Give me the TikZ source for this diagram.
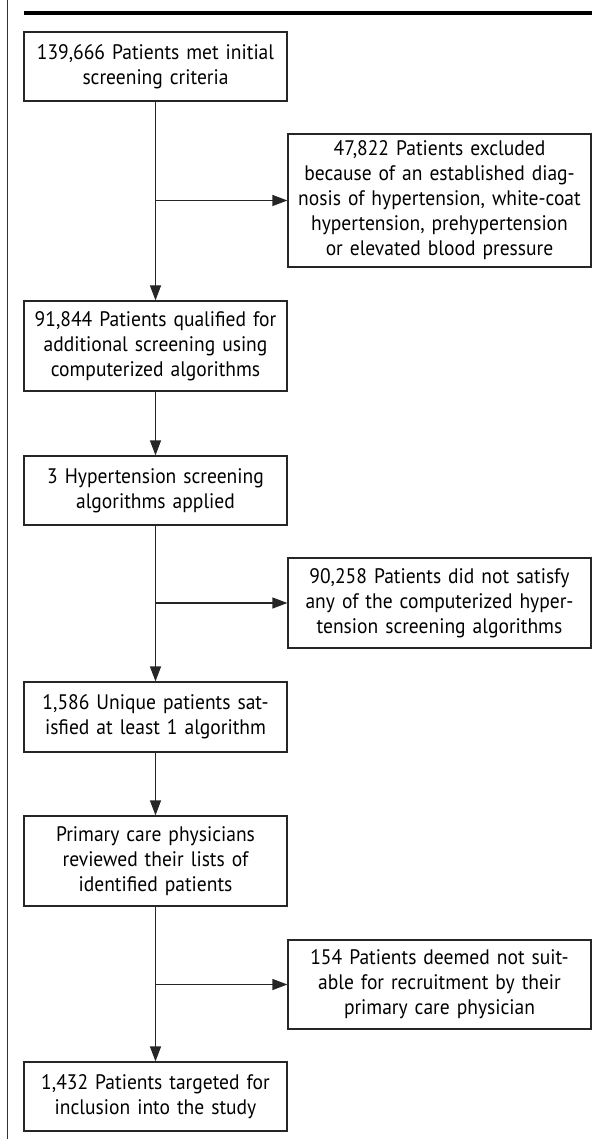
\documentclass[tikz,border=0pt]{standalone}
\usepackage{fontspec}
\setmainfont{PT Sans}[FakeStretch=0.93]
\usetikzlibrary{arrows.meta}

\begin{document}
\begin{tikzpicture}[x=1pt,y=-1pt,
  box/.style={draw=black!85, line width=1.2pt, align=center, inner sep=0pt,
    font=\fontsize{21}{25}\selectfont},
  mainbox/.style={box, minimum width=263pt, text width=257pt},
  sidebox/.style={box, minimum width=303pt, text width=297pt},
  flow/.style={draw=black!85, line width=1.2pt, -{Triangle[length=15pt,width=11pt]}}]
\useasboundingbox (0,0) rectangle (605,1139);
\draw[black!80, line width=0.8pt] (7.5,0) -- (7.5,1139);
\draw[line width=4pt] (24,12.7) -- (592,12.7);

\node[mainbox, minimum height=69pt] (screen) at (155.5,66.5) {139,666 Patients met initial\\screening criteria};
\node[sidebox, minimum height=133pt] (excl) at (439.5,200.5) {47,822 Patients excluded\\because of an established diag-\\nosis of hypertension, white-coat\\hypertension, prehypertension\\or elevated blood pressure};
\node[mainbox, minimum height=90pt] (qual) at (155.5,346) {91,844 Patients qualified for\\additional screening using\\computerized algorithms};
\node[mainbox, minimum height=69pt] (algo) at (155.5,490.5) {3 Hypertension screening\\algorithms applied};
\node[sidebox, minimum height=90pt] (nosat) at (439.5,603) {90,258 Patients did not satisfy\\any of the computerized hyper-\\tension screening algorithms};
\node[mainbox, minimum height=70pt] (uniq) at (155.5,717) {1,586 Unique patients sat-\\isfied at least 1 algorithm};
\node[mainbox, minimum height=90pt] (pcp) at (155.5,861) {Primary care physicians\\reviewed their lists of\\identified patients};
\node[sidebox, minimum height=89pt] (unsuit) at (439.5,984.5) {154 Patients deemed not suit-\\able for recruitment by their\\primary care physician};
\node[mainbox, minimum height=69pt] (target) at (155.5,1096.5) {1,432 Patients targeted for\\inclusion into the study};

\coordinate (j1) at (screen.south |- excl.west);
\coordinate (j2) at (algo.south |- nosat.west);
\coordinate (j3) at (pcp.south |- unsuit.west);
\draw[flow] (screen) -- (qual);
\draw[flow] (j1) -- (excl);
\draw[flow] (qual) -- (algo);
\draw[flow] (algo) -- (uniq);
\draw[flow] (j2) -- (nosat);
\draw[flow] (uniq) -- (pcp);
\draw[flow] (pcp) -- (target);
\draw[flow] (j3) -- (unsuit);
\end{tikzpicture}
\end{document}
